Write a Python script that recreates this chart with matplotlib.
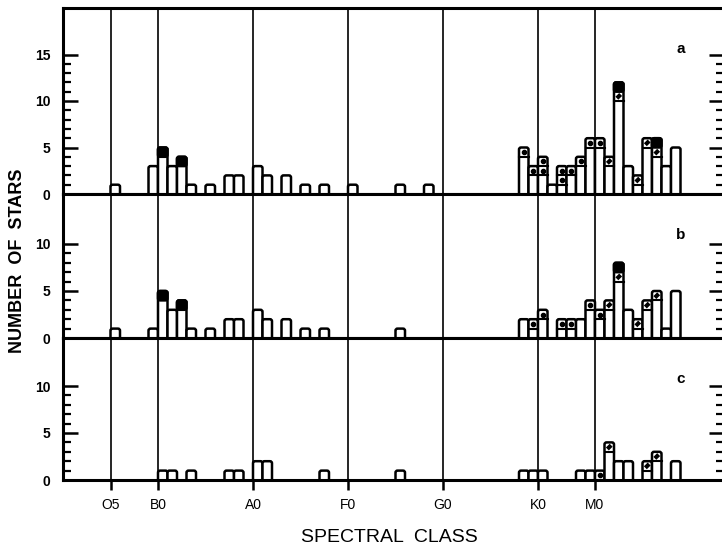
import matplotlib.pyplot as plt
from matplotlib.patches import FancyBboxPatch

# x axis in subclass steps: O0=0, B0=10, A0=20, F0=30, G0=40, K0=50, M0=56
class_pos = [5, 10, 20, 30, 40, 50, 56]
class_labels = ['O5', 'B0', 'A0', 'F0', 'G0', 'K0', 'M0']

# panel a
a_pos = [5, 9, 10, 11, 12, 13, 15, 17, 18, 20, 21, 23, 25, 27, 30, 35, 38,
         48, 49, 50, 51, 52, 53, 54, 55, 56, 57, 58, 59, 60, 61, 62, 63, 64]
a_h = [1, 3, 5, 3, 4, 1, 1, 2, 2, 3, 2, 2, 1, 1, 1, 1, 1,
       5, 3, 4, 1, 3, 3, 4, 6, 6, 4, 12, 3, 2, 6, 6, 3, 5]
a_black = [(10, 5), (12, 4), (58, 12), (62, 6)]
a_dot = [(48, 5), (49, 3), (50, 3), (50, 4), (52, 2), (52, 3), (53, 3),
         (54, 4), (55, 6), (56, 6)]
a_slash = [(57, 4), (58, 11), (60, 2), (61, 6), (62, 5)]

# panel b
b_pos = [5, 9, 10, 11, 12, 13, 15, 17, 18, 20, 21, 23, 25, 27, 35,
         48, 49, 50, 52, 53, 54, 55, 56, 57, 58, 59, 60, 61, 62, 63, 64]
b_h = [1, 1, 5, 3, 4, 1, 1, 2, 2, 3, 2, 2, 1, 1, 1,
       2, 2, 3, 2, 2, 2, 4, 3, 4, 8, 3, 2, 4, 5, 1, 5]
b_black = [(10, 5), (12, 4), (58, 8)]
b_dot = [(49, 2), (50, 3), (52, 2), (53, 2), (55, 4), (56, 3)]
b_slash = [(57, 4), (58, 7), (60, 2), (61, 4), (62, 5)]

# panel c
c_pos = [10, 11, 13, 17, 18, 20, 21, 27, 35,
         48, 49, 50, 54, 55, 56, 57, 58, 59, 61, 62, 64]
c_h = [1, 1, 1, 1, 1, 2, 2, 1, 1,
       1, 1, 1, 1, 1, 1, 4, 2, 2, 2, 3, 2]
c_black = []
c_dot = [(56, 1)]
c_slash = [(57, 4), (61, 2), (62, 3)]

plt.rcParams['font.family'] = ['Liberation Sans', 'DejaVu Sans']

fig = plt.figure(figsize=(7.22, 5.5), dpi=100)
W, H = 722, 550
x0, x1 = 63, 724
px_unit = 9.5


def rounded(ax, x, y0, hh, fc):
    # bar cell with softly rounded corners, like the inked original
    ax.add_patch(FancyBboxPatch((x, y0), 1, hh, boxstyle='round,pad=0,rounding_size=0.22',
                                mutation_aspect=1, facecolor=fc, edgecolor='black',
                                linewidth=1.8, zorder=3))


def panel(top, bottom, ymax, ticktop, letter, pos, h, black, dots, slashes, last=False):
    ax = fig.add_axes([x0 / W, 1 - bottom / H, (x1 - x0) / W, (bottom - top) / H])
    ax.set_xlim(0, (x1 - x0) / px_unit)
    ax.set_ylim(0, ymax)
    for xc in class_pos:
        ax.axvline(xc, color='black', lw=1.2, zorder=1)
    for p, v in zip(pos, h):
        rounded(ax, p, -0.3, v + 0.3, 'white')
    for p, lv in black:
        rounded(ax, p, lv - 1, 1, 'black')
    for p, lv in dots:
        ax.plot([p, p + 1], [lv - 1, lv - 1], color='black', lw=1.5, zorder=4)
        ax.plot(p + 0.5, lv - 0.5, 'o', color='black', ms=3, zorder=4)
    for p, lv in slashes:
        ax.plot([p, p + 1], [lv - 1, lv - 1], color='black', lw=1.5, zorder=4)
        ax.plot([p + 0.3, p + 0.7], [lv - 0.7, lv - 0.3], color='black', lw=3,
                solid_capstyle='butt', zorder=4)
    ax.text(65, ymax - 4.4, letter, fontsize=11, fontweight='bold', ha='center', va='center')

    ax.set_yticks(range(0, ticktop + 1, 5))
    ax.set_yticks(range(0, ticktop + 1), minor=True)
    ax.set_yticklabels([str(v) for v in range(0, ticktop + 1, 5)], fontsize=10,
                       fontweight='bold')
    ax.tick_params(axis='y', which='major', direction='in', length=11, width=1.8,
                   right=True, pad=9)
    ax.tick_params(axis='y', which='minor', direction='in', length=6, width=1.6,
                   right=True)
    for s in ['left', 'top', 'bottom']:
        ax.spines[s].set_linewidth(2.2)
        ax.spines[s].set_zorder(5)
    ax.spines['right'].set_visible(False)
    if last:
        ax.set_xticks(class_pos)
        ax.set_xticklabels(class_labels, fontsize=10)
        ax.tick_params(axis='x', direction='out', length=7, width=1.8, pad=6)
    else:
        ax.set_xticks([])
    return ax


panel(8, 194, 186 / 9.3, 15, 'a', a_pos, a_h, a_black, a_dot, a_slash)
panel(194, 338, 144 / 9.4, 10, 'b', b_pos, b_h, b_black, b_dot, b_slash)
panel(338, 480, 142 / 9.4, 10, 'c', c_pos, c_h, c_black, c_dot, c_slash, last=True)

fig.text(18 / W, 1 - 261 / H, 'NUMBER  OF  STARS', rotation=90, ha='center',
         va='center', fontsize=13, fontweight='bold')
fig.text(389 / W, 1 - 537 / H, 'SPECTRAL  CLASS', ha='center', va='center',
         fontsize=14)

fig.savefig('out.png', dpi=100)
